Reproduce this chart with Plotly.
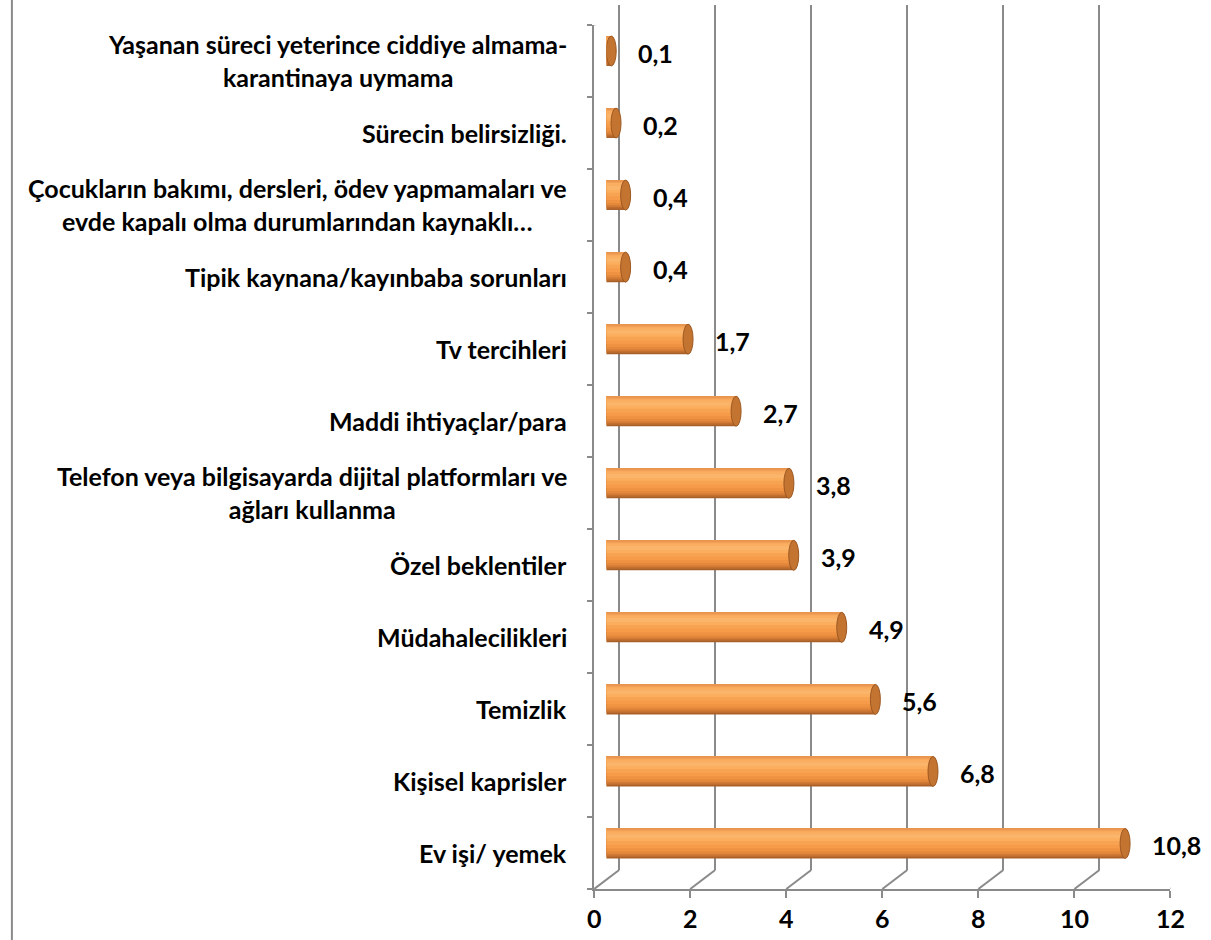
import plotly.graph_objects as go

# ---- data (bottom to top) ----
categories = [
    "Ev işi/ yemek",
    "Kişisel kaprisler",
    "Temizlik",
    "Müdahalecilikleri",
    "Özel beklentiler",
    "Telefon veya bilgisayarda dijital platformları ve\nağları kullanma",
    "Maddi ihtiyaçlar/para",
    "Tv tercihleri",
    "Tipik kaynana/kayınbaba sorunları",
    "Çocukların bakımı, dersleri, ödev yapmamaları ve\nevde kapalı olma durumlarından kaynaklı…",
    "Sürecin belirsizliği.",
    "Yaşanan süreci yeterince ciddiye almama-\nkarantinaya uymama",
]
values = [10.8, 6.8, 5.6, 4.9, 3.9, 3.8, 2.7, 1.7, 0.4, 0.4, 0.2, 0.1]
value_labels = ["10,8", "6,8", "5,6", "4,9", "3,9", "3,8", "2,7", "1,7", "0,4", "0,4", "0,2", "0,1"]
x_ticks = [0, 2, 4, 6, 8, 10, 12]

# ---- layout geometry ----
W, H = 1211, 940
FONT = "Lato"
FS = 25
GRID = "#8a8a8a"

def px_x(a, b):
    return [a / W, b / W]

def px_y(top, bottom):
    return [(H - bottom) / H, (H - top) / H]

pos = list(range(len(categories)))
BW = 0.416
half = BW / 2

fig = go.Figure()

# invisible traces to set up the front and back-wall axes
fig.add_trace(go.Scatter(x=[0, 12], y=[-0.5, 11.5], mode="markers",
                         marker=dict(opacity=0), hoverinfo="skip",
                         showlegend=False, xaxis="x", yaxis="y"))
fig.add_trace(go.Scatter(x=[0, 12], y=[-0.5, 11.5], mode="markers",
                         marker=dict(opacity=0), hoverinfo="skip",
                         showlegend=False, xaxis="x2", yaxis="y2"))

# cylinder body as stacked shading bands (bottom -> top, as fraction of thickness)
bands = [
    (0.00, "#A9602A"),
    (0.05, "#BE6C2E"),
    (0.10, "#D27A34"),
    (0.16, "#E4883B"),
    (0.24, "#EF9343"),
    (0.34, "#F59B49"),
    (0.46, "#F8A352"),
    (0.58, "#FAAE5E"),
    (0.68, "#FBB56A"),
    (0.80, "#F9AE62"),
    (0.90, "#F3A155"),
    (0.96, "#E99650"),
]
for frac, col in bands:
    off = -half + frac * BW
    wd = BW - frac * BW
    fig.add_trace(go.Bar(
        x=values, y=pos, orientation="h", base=0,
        offset=off, width=wd, marker=dict(color=col, line=dict(width=0)),
        hoverinfo="skip", showlegend=False, xaxis="x3", yaxis="y3"))

shapes = []
# end caps of the cylinders
for i, v in enumerate(values):
    shapes.append(dict(type="circle", xref="x3", yref="y3", xsizemode="pixel",
                       xanchor=0, x0=-5, x1=5, y0=i - half, y1=i + half,
                       fillcolor="#F19A4C", line=dict(width=0), layer="between"))
    shapes.append(dict(type="circle", xref="x3", yref="y3", xsizemode="pixel",
                       xanchor=v, x0=-5, x1=5, y0=i - half, y1=i + half,
                       fillcolor="#C47431", line=dict(color="#9C5822", width=1),
                       layer="above"))

# floor depth lines + top-left wall edge
for t in x_ticks:
    shapes.append(dict(type="line", xref="x", yref="y", xsizemode="pixel",
                       ysizemode="pixel", xanchor=t, yanchor=-0.5,
                       x0=0, x1=25, y0=0, y1=19,
                       line=dict(color=GRID, width=2)))
shapes.append(dict(type="line", xref="x", yref="y", xsizemode="pixel",
                   ysizemode="pixel", xanchor=0, yanchor=11.5,
                   x0=0, x1=25, y0=0, y1=20,
                   line=dict(color=GRID, width=2)))
# chart-area border (left edge)
shapes.append(dict(type="line", xref="paper", yref="paper", x0=5 / W, x1=5 / W,
                   y0=0, y1=1, line=dict(color=GRID, width=2)))

annotations = []
for i, c in enumerate(categories):
    annotations.append(dict(xref="x domain", yref="y", x=0, y=i, xshift=-25,
                            xanchor="right", yanchor="middle", align="center",
                            text=c.replace("\n", "<br>"), showarrow=False,
                            font=dict(family=FONT, size=FS, color="black", weight="bold")))
for i, (v, lab) in enumerate(zip(values, value_labels)):
    annotations.append(dict(xref="x3", yref="y3", x=v, y=i, xshift=25, yshift=-2,
                            xanchor="left", yanchor="middle", text=lab,
                            showarrow=False,
                            font=dict(family=FONT, size=FS, color="black", weight="bold")))

fig.update_layout(
    width=W, height=H, autosize=False,
    margin=dict(l=0, r=0, t=0, b=0),
    paper_bgcolor="white", plot_bgcolor="rgba(0,0,0,0)",
    barmode="overlay",
    showlegend=False,
    font=dict(family=FONT, size=FS, color="black"),
    xaxis=dict(domain=px_x(598, 1185), range=[0, 12], anchor="y",
               tickvals=x_ticks, ticktext=[str(t) for t in x_ticks],
               showgrid=False, zeroline=False,
               showline=True, linecolor=GRID, linewidth=2,
               ticks="outside", ticklen=7, tickwidth=2, tickcolor=GRID,
               tickfont=dict(family=FONT, size=FS, color="black", weight="bold")),
    yaxis=dict(domain=px_y(25, 889), range=[-0.5, 11.5], anchor="x",
               tickvals=[k - 0.5 for k in range(len(categories) + 1)],
               showticklabels=False, showgrid=False, zeroline=False,
               showline=True, linecolor=GRID, linewidth=2,
               ticks="outside", ticklen=5, tickwidth=2, tickcolor=GRID),
    xaxis2=dict(domain=px_x(623, 1210), range=[0, 12], anchor="y2",
                dtick=2, showticklabels=False, ticks="",
                showgrid=True, gridcolor=GRID, gridwidth=2,
                zeroline=True, zerolinecolor=GRID, zerolinewidth=2,
                showline=False),
    yaxis2=dict(domain=px_y(5, 870), range=[-0.5, 11.5], anchor="x2",
                showticklabels=False, showgrid=False, zeroline=False,
                showline=False, ticks=""),
    xaxis3=dict(domain=px_x(610.5, 1197.5), range=[0, 12], anchor="y3",
                showticklabels=False, showgrid=False, zeroline=False,
                showline=False, ticks=""),
    yaxis3=dict(domain=px_y(15, 879.5), range=[-0.5, 11.5], anchor="x3",
                showticklabels=False, showgrid=False, zeroline=False,
                showline=False, ticks=""),
    shapes=shapes,
    annotations=annotations,
)

fig.write_html("out.html",
               config={"displayModeBar": False, "responsive": False},
               post_script="document.body.style.margin='0';document.body.style.overflow='hidden';")
